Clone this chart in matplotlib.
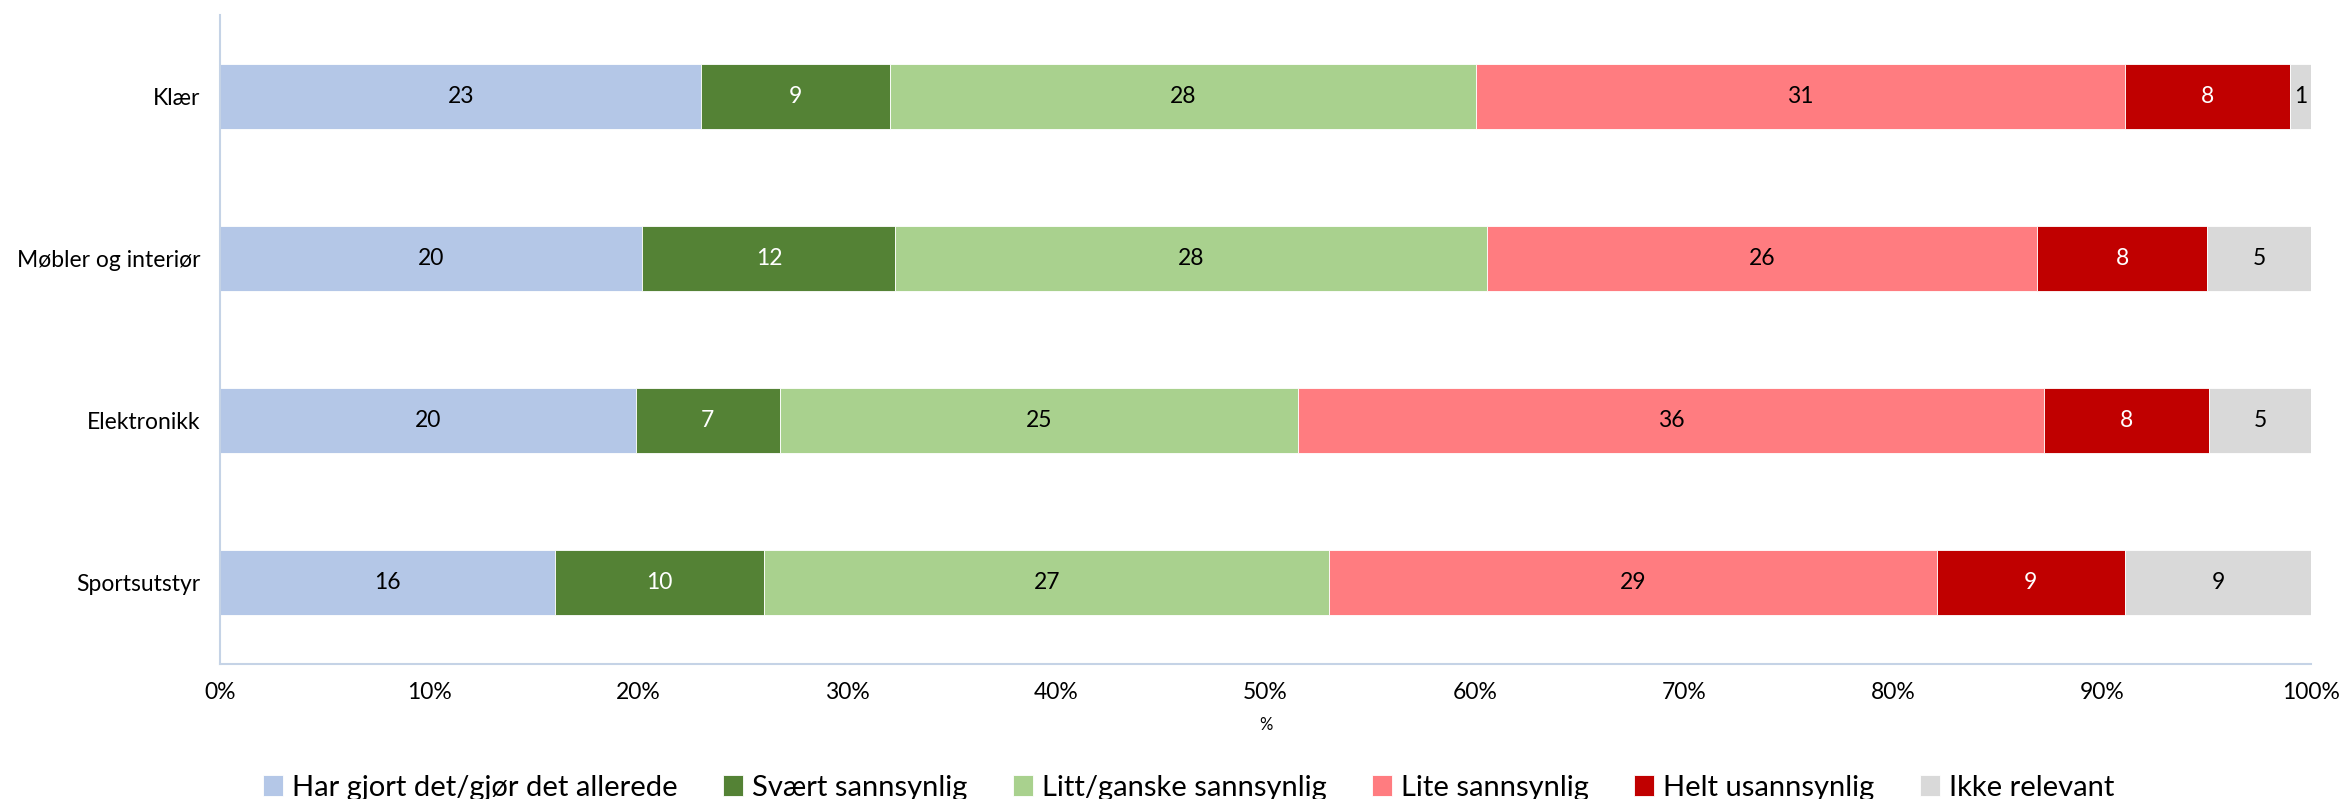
import numpy as np
import matplotlib
matplotlib.use("Agg")
import matplotlib.pyplot as plt
from matplotlib.ticker import PercentFormatter

plt.rcParams['font.family'] = ['Lato', 'DejaVu Sans']

categories = ["Klær", "Møbler og interiør", "Elektronikk", "Sportsutstyr"]
series_names = ["Har gjort det/gjør det allerede", "Svært sannsynlig",
                "Litt/ganske sannsynlig", "Lite sannsynlig",
                "Helt usannsynlig", "Ikke relevant"]

# values (percent, per category)
har_gjort = [23.0, 20.2, 19.9, 16.0]
svaert = [9.0, 12.1, 6.9, 10.0]
litt = [28.0, 28.3, 24.8, 27.0]
lite = [31.0, 26.3, 35.7, 29.0]
helt = [7.9, 8.1, 7.9, 9.0]
ikke = [1.0, 5.0, 4.9, 8.9]

colors = ["#B4C7E7", "#548235", "#A9D18E", "#FF7C80", "#C00000", "#D9D9D9"]
text_colors = ["black", "white", "black", "black", "white", "black"]

data = np.array([har_gjort, svaert, litt, lite, helt, ikke])
shares = data / data.sum(axis=0) * 100

fig = plt.figure(figsize=(23.44, 7.99), dpi=100)
ax = fig.add_axes([0.0938, 0.169, 0.8923, 0.812])

ypos = np.arange(len(categories))
left = np.zeros(len(categories))
for i, name in enumerate(series_names):
    bars = ax.barh(ypos, shares[i], left=left, height=0.4, color=colors[i],
                   edgecolor="white", linewidth=0.6, label=name)
    labels = [f"{v:.0f}" for v in data[i]]
    ax.bar_label(bars, labels=labels, label_type="center",
                 color=text_colors[i], fontsize=16.5)
    left += shares[i]

ax.set_xlim(0, 100)
ax.set_ylim(len(categories) - 0.5, -0.5)
ax.set_yticks(ypos)
ax.set_yticklabels(categories, fontsize=16.5)
ax.set_xticks(np.arange(0, 101, 10))
ax.xaxis.set_major_formatter(PercentFormatter(decimals=0))
ax.tick_params(axis="x", labelsize=16.5, length=0, pad=13)
ax.tick_params(axis="y", length=0, pad=14)
ax.set_xlabel("%", fontsize=12, labelpad=10)

for s in ["top", "right"]:
    ax.spines[s].set_visible(False)
for s in ["left", "bottom"]:
    ax.spines[s].set_color("#C5D3E6")
    ax.spines[s].set_linewidth(1.5)

fig.legend(loc="lower center", bbox_to_anchor=(0.507, -0.035), ncol=6,
           frameon=False, fontsize=21, handlelength=0.7, handleheight=0.7,
           handletextpad=0.3, columnspacing=1.55)

fig.savefig("out.png", dpi=100)
